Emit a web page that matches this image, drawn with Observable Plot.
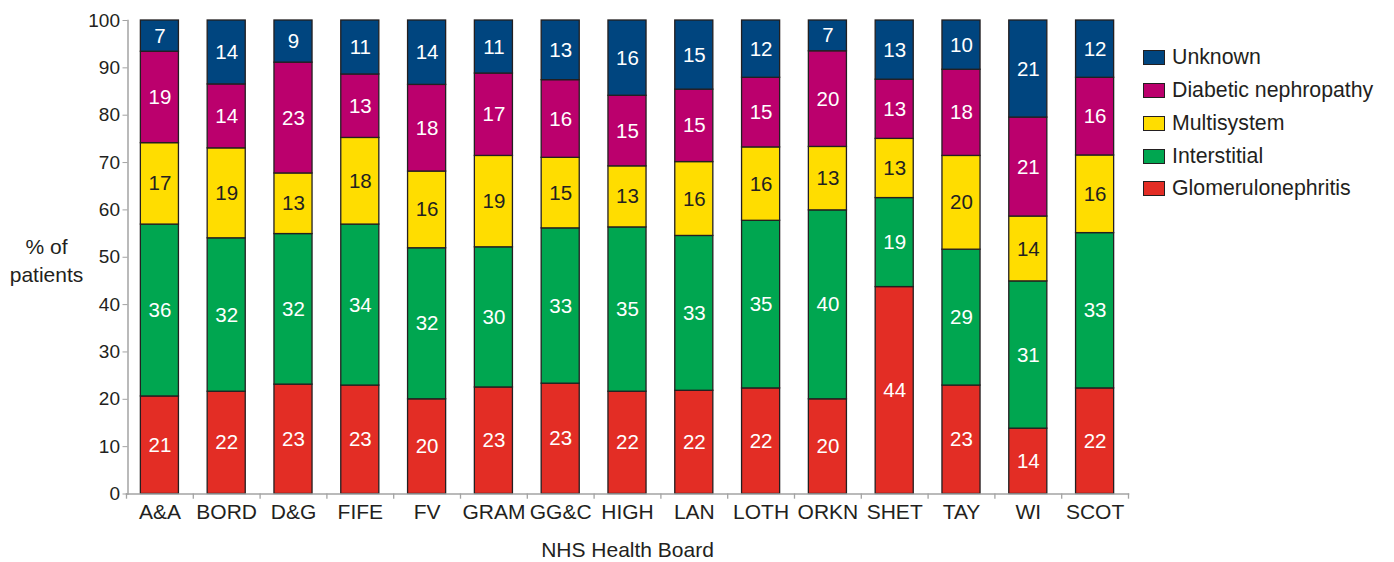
<!DOCTYPE html>
<html><head><meta charset="utf-8">
<script src="https://cdn.jsdelivr.net/npm/d3@7"></script>
<script src="https://cdn.jsdelivr.net/npm/@observablehq/plot@0.6"></script>
<style>
body{margin:0;background:#fff;font-family:"Liberation Sans",Arial,sans-serif;}
#wrap{position:relative;width:1394px;height:562px;}
.legend{position:absolute;left:1143px;top:0;}
.item{position:absolute;left:0;display:flex;align-items:center;white-space:nowrap;font-size:21.3px;color:#231f20;height:24px;}
.sw{width:20px;height:13px;border:1.5px solid #231f20;margin-right:7px;box-sizing:content-box;}
</style></head><body><div id="wrap"></div>
<script>
const boards = ["A&A","BORD","D&G","FIFE","FV","GRAM","GG&C","HIGH","LAN","LOTH","ORKN","SHET","TAY","WI","SCOT"];
const categories = ["Glomerulonephritis","Interstitial","Multisystem","Diabetic nephropathy","Unknown"];
const colors = ["#e32d25","#00a650","#ffdd00","#bb006d","#00457f"];
const glomerulonephritis = [20.6,21.6,23.1,22.9,20.0,22.5,23.3,21.6,21.8,22.3,20.0,43.7,22.9,13.8,22.3];
const interstitial       = [36.3,32.4,31.8,34.0,31.9,29.6,32.8,34.7,32.7,35.4,39.9,18.8,28.7,31.1,32.8];
const multisystem        = [17.2,19.0,12.8,18.3,16.2,19.3,14.9,12.9,15.6,15.5,13.4,12.5,19.8,13.7,16.4];
const diabetic           = [19.3,13.5,23.4,13.4,18.3,17.4,16.4,14.9,15.3,14.7,20.2,12.5,18.2,20.9,16.4];
const unknown            = [6.6,13.5,8.9,11.4,13.6,11.2,12.6,15.9,14.6,12.1,6.5,12.5,10.4,20.5,12.1];
const yTicks = [0,10,20,30,40,50,60,70,80,90,100];

const series = [glomerulonephritis, interstitial, multisystem, diabetic, unknown];
const data = [];
boards.forEach((b, i) => categories.forEach((c, j) => data.push({board: b, category: c, value: series[j][i]})));

const W = 1394, H = 562, mL = 126, mR = 266, mT = 20, mB = 68.5;
const step = (W - mL - mR) / boards.length;
const axisGrey = "#a3a3a3", ink = "#231f20";
const font = '"Liberation Sans", Arial, sans-serif';

const chart = Plot.plot({
  width: W, height: H,
  marginLeft: mL, marginRight: mR, marginTop: mT, marginBottom: mB,
  style: {fontFamily: font, fontSize: "19px", color: ink, background: "white", overflow: "visible"},
  x: {domain: boards, paddingInner: 0.43, paddingOuter: 0.215, round: false, label: null},
  y: {domain: [0, 100], label: null},
  color: {domain: categories, range: colors},
  marks: [
    Plot.barY(data, {x: "board", y: "value", fill: "category", order: categories, stroke: ink, strokeWidth: 1.3}),
    Plot.text(data, Plot.stackY({x: "board", y: "value", z: "category", order: categories, text: d => d.category !== "Multisystem" ? Math.round(d.value) : "", fill: "white", fontSize: 20.5})),
    Plot.text(data, Plot.stackY({x: "board", y: "value", z: "category", order: categories, text: d => d.category === "Multisystem" ? Math.round(d.value) : "", fill: ink, fontSize: 20.5})),
    Plot.frame({anchor: "left", stroke: axisGrey, strokeWidth: 1.5, dx: 1.5}),
    Plot.frame({anchor: "bottom", stroke: axisGrey, strokeWidth: 1.5}),
    Plot.axisY({ticks: yTicks, tickSize: 5, tickPadding: 3, dx: 1.5, stroke: axisGrey, fill: ink, fontSize: 19, label: null}),
    Plot.axisX({tickSize: 0, tickPadding: 10, fill: ink, fontSize: 21, label: null}),
    Plot.ruleX(boards, {x: d => d, y1: 0, y2: -1.1, dx: -step / 2, stroke: axisGrey, strokeWidth: 1.3}),
    Plot.ruleX([boards[boards.length - 1]], {x: d => d, y1: 0, y2: -1.1, dx: step / 2, stroke: axisGrey, strokeWidth: 1.3}),
    Plot.text(["% of\npatients"], {frameAnchor: "left", textAnchor: "middle", dx: -80, dy: 2, text: d => d, fill: ink, fontSize: 21, lineHeight: 1.35}),
    Plot.text(["NHS Health Board"], {frameAnchor: "bottom", dy: 63, text: d => d, fill: ink, fontSize: 21})
  ]
});

const wrap = document.getElementById("wrap");
wrap.appendChild(chart);
const legend = document.createElement("div");
legend.className = "legend";
const rowY = [57, 90, 123, 156, 188];
categories.slice().reverse().forEach((c, k) => {
  const item = document.createElement("div");
  item.className = "item";
  item.style.top = (rowY[k] - 12) + "px";
  const sw = document.createElement("span");
  sw.className = "sw";
  sw.style.background = colors[categories.indexOf(c)];
  const t = document.createElement("span");
  t.textContent = c;
  item.appendChild(sw); item.appendChild(t);
  legend.appendChild(item);
});
wrap.appendChild(legend);
</script></body></html>
